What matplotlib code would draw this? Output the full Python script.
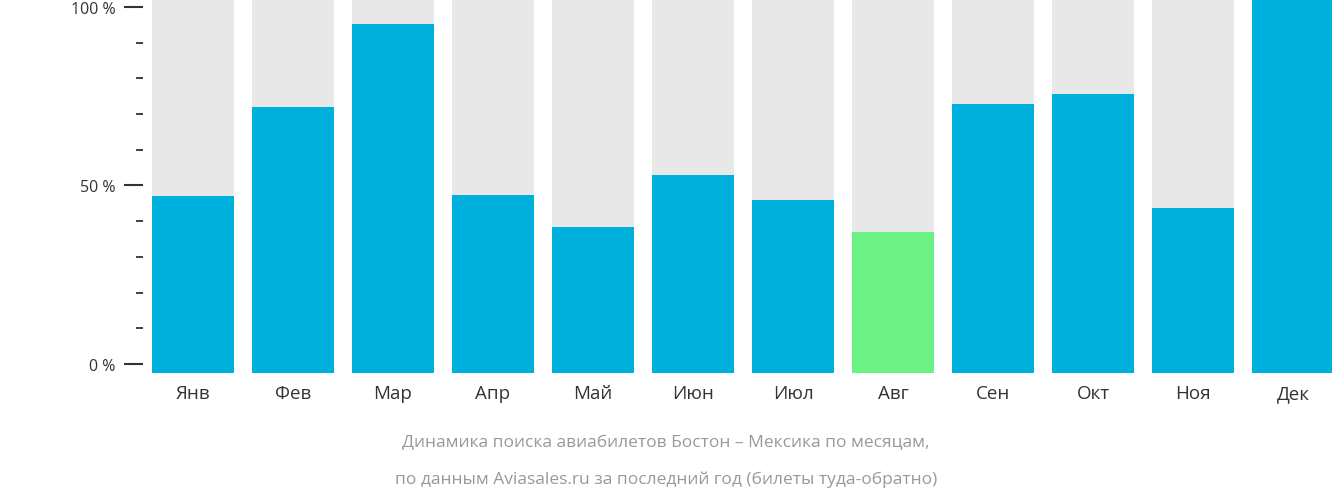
import matplotlib
matplotlib.use("Agg")
import matplotlib.pyplot as plt
from matplotlib.ticker import MultipleLocator

months = ["Янв", "Фев", "Мар", "Апр", "Май", "Июн", "Июл", "Авг", "Сен", "Окт", "Ноя", "Дек"]
values = [47.1, 72.0, 95.2, 47.3, 38.4, 52.9, 45.9, 37.0, 72.8, 75.6, 43.7, 102.2]
highlight = "Авг"
ytick_labels = ["0 %", "50 %", "100 %"]

plt.rcParams["font.family"] = "Open Sans"
fig = plt.figure(figsize=(13.32, 5.02), dpi=100)
ax = fig.add_axes([143/1332, 128/502, 1191/1332, 374/502])
lo, hi = -2.5, 102.2
x = list(range(len(months)))
ax.bar(x, [hi-lo]*len(x), bottom=lo, width=0.82, color="#e8e8e8", zorder=1)
colors = ["#6cf185" if m == highlight else "#00b0dc" for m in months]
ax.bar(x, [v-lo for v in values], bottom=lo, width=0.82, color=colors, zorder=2)
ax.set_xlim(-0.5, 11.41)
ax.set_ylim(lo, hi)
ax.set_yticks([0, 50, 100])
ax.set_yticklabels(ytick_labels, fontsize=11.5, color="#333333")
ax.yaxis.set_minor_locator(MultipleLocator(10))
ax.tick_params(axis="y", which="major", length=14, width=1.5, color="#333333", pad=6)
ax.tick_params(axis="y", which="minor", length=5, width=1.3, color="#333333")
ax.set_xticks(x)
ax.set_xticklabels(months, fontsize=13.5, color="#333333")
ax.tick_params(axis="x", length=0, pad=8)
for s in ax.spines.values():
    s.set_visible(False)
fig.text(0.5, 1-443/502, "Динамика поиска авиабилетов Бостон – Мексика по месяцам,",
         ha="center", va="center", fontsize=12.5, color="#999999")
fig.text(0.5, 1-480/502, "по данным Aviasales.ru за последний год (билеты туда-обратно)",
         ha="center", va="center", fontsize=12.5, color="#999999")
fig.savefig("out.png", dpi=100)
